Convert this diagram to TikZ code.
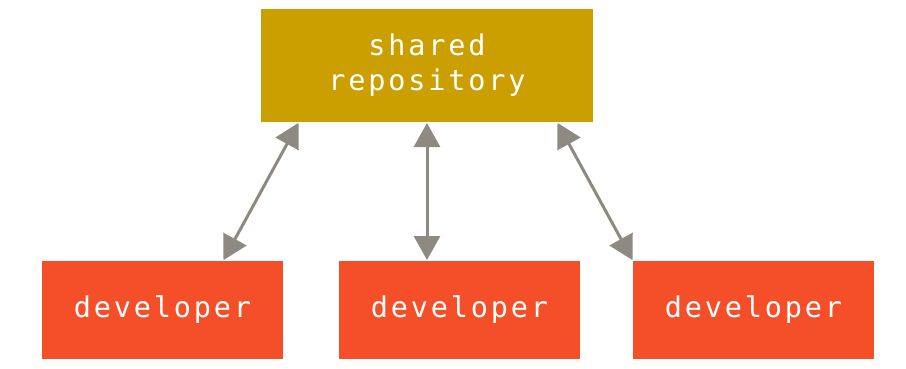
\documentclass[tikz,border=0pt]{standalone}
\usepackage{fontspec}
\setmonofont[LetterSpace=10]{DejaVu Sans Mono}
\usetikzlibrary{arrows.meta}
\definecolor{gold}{HTML}{CC9F00}
\definecolor{devred}{HTML}{F54F29}
\definecolor{arrgray}{HTML}{8E8A82}
\begin{document}
\begin{tikzpicture}[x=1pt,y=-1pt,
  box/.style={draw=none,inner sep=0pt,outer sep=0pt,text=white,
    font=\ttfamily\fontsize{28.5}{35}\selectfont,align=center},
  repobox/.style={box,fill=gold,minimum width=332pt,minimum height=113pt},
  devbox/.style={box,fill=devred,minimum width=241pt,minimum height=98pt},
  link/.style={arrgray,line width=3pt,
    {Triangle[length=24pt,width=26pt]}-{Triangle[length=24pt,width=26pt]},
    shorten <=1pt,shorten >=1pt}]
\useasboundingbox (0,0) rectangle (906,369);
\node[repobox] (repo) at (427,65.5) {shared\\repository};
\node[devbox] (dev1) at (162.5,310) {developer};
\node[devbox] (dev2) at (459.5,310) {developer};
\node[devbox] (dev3) at (753.5,310) {developer};
\draw[link] ([xshift=38pt]repo.south west) -- ([xshift=-60pt]dev1.north east);
\draw[link] (repo.south) -- ([xshift=-32.5pt]dev2.north);
\draw[link] ([xshift=-36pt]repo.south east) -- (dev3.north west);
\end{tikzpicture}
\end{document}
